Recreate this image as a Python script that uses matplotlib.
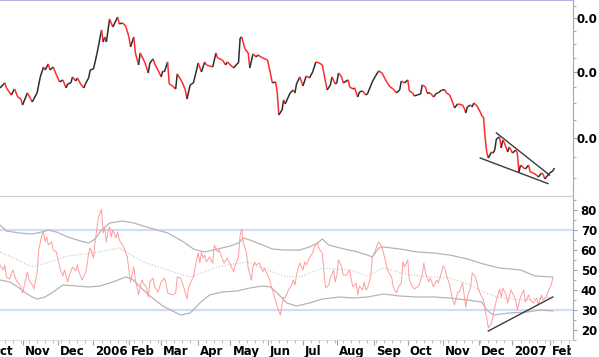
import numpy as np
import pandas as pd
import matplotlib
matplotlib.use("Agg")
import matplotlib.pyplot as plt
from matplotlib.collections import LineCollection
from matplotlib.ticker import FixedLocator, NullFormatter
from matplotlib.transforms import Bbox, TransformedBbox, offset_copy, blended_transform_factory

## data ##
# x values are trading days counted from 12 Oct 2005
start_date = "2005-10-12"

price_day = [0, 3, 4, 7, 9, 11, 13, 14, 17, 19,
             20, 23, 25, 27, 28, 30, 31, 33, 35, 37,
             39, 41, 42, 44, 45, 47, 48, 50, 52, 53,
             55, 56, 58, 60, 61, 63, 64, 65, 66, 68,
             70, 73, 74, 76, 78, 80, 81, 83, 84, 86,
             87, 90, 92, 93, 95, 96, 98, 100, 101, 102,
             104, 105, 107, 109, 110, 113, 115, 116, 118, 120,
             122, 123, 125, 127, 128, 132, 134, 135, 138, 140,
             141, 145, 147, 148, 149, 150, 152, 154, 155, 157,
             159, 160, 163, 166, 168, 169, 171, 172, 173, 175,
             176, 177, 180, 182, 183, 184, 186, 188, 190, 192,
             194, 196, 198, 200, 202, 203, 205, 206, 208, 209,
             210, 212, 213, 216, 217, 219, 220, 222, 223, 225,
             227, 228, 231, 233, 235, 237, 239, 240, 242, 244,
             246, 248, 249, 251, 253, 254, 256, 257, 259, 261,
             262, 264, 265, 267, 269, 270, 271, 272, 274, 276,
             277, 279, 281, 282, 284, 287, 288, 289, 290, 292,
             293, 294, 296, 298, 299, 300, 301, 302, 303, 305,
             306, 307, 308, 310, 311, 312, 313, 315, 316, 318,
             320, 321, 322, 323, 325, 326, 328, 329, 331, 333,
             334, 336, 337, 338, 339, 341, 343, 344]
price = [.04737, .04818, .04737, .04626, .04721, .04595, .04564, .04472, .04658, .04564,
         .04518, .04658, .04917, .05085, .05034, .05137, .05034, .05085, .04950, .04834,
         .04867, .04737, .04802, .04818, .04917, .04850, .04900, .04802, .04737, .04802,
         .04900, .05034, .05051, .05296, .05441, .05762, .05533, .05627, .05533, .05980,
         .05820, .06020, .05880, .05900, .05840, .05627, .05441, .05627, .05332, .05120,
         .05332, .05155, .04983, .05155, .05225, .05137, .05034, .04917, .05017, .05000,
         .05172, .04802, .04769, .04721, .04967, .04834, .04705, .04564, .04785, .04818,
         .05034, .05155, .05000, .05172, .05120, .05085, .05332, .05242, .05207, .05120,
         .05172, .05068, .05137, .05155, .05608, .05627, .05404, .05332, .05068, .05314,
         .05260, .05296, .05242, .05207, .04950, .04818, .04834, .04673, .04324, .04397,
         .04549, .04488, .04658, .04705, .04658, .04802, .04917, .04769, .04933, .04900,
         .05000, .05172, .05155, .05120, .04834, .04705, .04785, .04917, .04802, .04818,
         .04983, .04917, .04818, .04867, .04753, .04721, .04737, .04595, .04673, .04689,
         .04626, .04642, .04834, .04933, .05017, .04983, .04883, .04834, .04753, .04721,
         .04658, .04705, .04850, .04818, .04867, .04689, .04658, .04611, .04626, .04642,
         .04785, .04753, .04658, .04658, .04595, .04626, .04658, .04658, .04705, .04705,
         .04658, .04626, .04503, .04427, .04488, .04472, .04427, .04353, .04442, .04472,
         .04442, .04503, .04457, .04368, .04309, .04295, .04014, .03815, .03738, .03815,
         .03802, .03841, .03987, .04014, .03867, .03973, .03933, .03815, .03880, .03802,
         .03841, .03802, .03565, .03651, .03614, .03602, .03651, .03565, .03553, .03529,
         .03505, .03553, .03541, .03482, .03505, .03553, .03577, .03614]

price_ticks = [0.04, 0.05, 0.06]
price_tick_labels = ["0.0", "0.0", "0.0"]

# falling wedge drawn on the price
wedge_hi_day = [308, 341]
wedge_hi = [0.04069, 0.03529]
wedge_lo_day = [298, 340]
wedge_lo = [0.03738, 0.03429]

rsi_day = [0, 2, 3, 4, 6, 8, 10, 11, 13, 14,
           17, 18, 20, 21, 23, 24, 26, 27, 28, 29,
           30, 32, 33, 35, 36, 38, 39, 40, 42, 43,
           45, 47, 48, 49, 51, 53, 54, 55, 56, 58,
           59, 60, 61, 63, 64, 65, 66, 67, 68, 69,
           70, 72, 73, 74, 76, 77, 79, 80, 81, 83,
           84, 85, 86, 88, 89, 91, 92, 93, 95, 96,
           98, 100, 102, 103, 104, 107, 109, 110, 112, 114,
           116, 117, 119, 120, 122, 123, 124, 125, 126, 127,
           128, 130, 132, 133, 135, 136, 138, 139, 141, 143,
           145, 146, 148, 149, 150, 151, 153, 154, 156, 157,
           158, 159, 161, 163, 164, 166, 167, 169, 170, 171,
           172, 174, 175, 176, 177, 179, 181, 182, 183, 184,
           186, 188, 189, 190, 192, 194, 195, 197, 198, 200,
           201, 202, 204, 205, 207, 208, 209, 210, 212, 213,
           215, 217, 218, 219, 221, 222, 223, 225, 226, 227,
           228, 230, 231, 233, 234, 235, 237, 238, 240, 241,
           243, 244, 246, 247, 249, 250, 251, 253, 254, 256,
           257, 259, 260, 262, 263, 264, 266, 267, 269, 271,
           272, 274, 275, 276, 277, 279, 281, 282, 284, 285,
           287, 289, 290, 292, 293, 295, 296, 297, 299, 300,
           301, 302, 303, 305, 306, 308, 310, 311, 312, 314,
           315, 317, 318, 320, 321, 323, 325, 326, 328, 329,
           331, 333, 334, 336, 337, 339, 340, 342, 343]
rsi = [52.5, 50, 52.5, 46.5, 45.5, 50, 45, 44, 41.5, 38.5,
       49, 45, 42.5, 40.5, 48.5, 60, 67.5, 69, 64, 66.5,
       62.5, 64, 60, 59, 55, 49, 47, 50, 44, 47.5,
       51.5, 49.5, 52.5, 49, 45, 48.5, 52.5, 58.5, 61, 56,
       64, 70, 76, 80.5, 68.5, 71, 64, 69, 71.5, 66.5,
       70, 66, 69, 65, 62.5, 61, 56.5, 50, 44, 51.5,
       45, 41.5, 37.5, 45, 43.5, 41, 36.5, 44, 46, 41.5,
       39, 44, 46, 43.5, 38.5, 37.5, 38.5, 46.5, 46, 41.5,
       35.5, 41, 45, 46.5, 55, 58.5, 53.5, 59, 56, 57.5,
       54, 56.5, 53.5, 62.5, 59, 60, 55.5, 53.5, 56, 52.5,
       49, 52.5, 56.5, 67.5, 70.5, 63.5, 58.5, 51, 45, 51.5,
       54, 52.5, 53.5, 49, 51, 47.5, 46, 40, 37.5, 35,
       31.5, 27.5, 32.5, 36.5, 36, 40, 42.5, 45, 42.5, 47.5,
       53.5, 50, 54, 52.5, 56, 58.5, 61.5, 63.5, 60.5, 58.5,
       49, 41, 42.5, 46, 50, 44, 47.5, 55, 51.5, 47.5,
       47.5, 50, 45, 41.5, 43.5, 37.5, 42, 40, 44, 40,
       41, 46.5, 56, 60, 62.5, 64, 61.5, 58.5, 51.5, 49,
       46.5, 41.5, 38.5, 41, 43.5, 54, 51.5, 55, 45, 41.5,
       40.5, 41.5, 42.5, 47.5, 53.5, 48.5, 44, 46, 41.5, 45,
       43.5, 49, 52, 51, 47.5, 42.5, 35, 32.5, 39, 39,
       43.5, 31.5, 36.5, 41.5, 48.5, 46.5, 43.5, 40, 36.5, 35,
       30, 26, 21, 23.5, 27.5, 35, 40.5, 36.5, 41, 37.5,
       33.5, 40, 38.5, 35, 30, 36.5, 40, 34, 37.5, 35,
       33.5, 36, 32.5, 37.5, 35, 36.5, 39, 42.5, 46]

# bands around the RSI
band_up_day = [0, 4, 12, 20, 26, 30, 35, 42, 50, 55, 59, 63, 68, 76, 83, 91, 104, 114,
               120, 127, 135, 143, 148, 151, 155, 163, 169, 176, 186, 192, 197, 200, 204,
               211, 222, 228, 231, 235, 238, 248, 259, 269, 279, 290, 300, 310, 323, 332, 343]
band_up = [72.5, 69.5, 68.5, 68, 69, 70, 69, 66.5, 64.5, 63.5, 65.5, 70, 73.5, 74.5, 73.5,
           71.5, 68.5, 64, 60.5, 59, 60.5, 62, 63.5, 66, 65, 62.5, 60.5, 60, 60, 61.5, 63.5,
           65.5, 62.5, 61, 59, 57.5, 56.5, 61, 61.5, 60.5, 59, 58.5, 57.5, 55.5, 53, 51, 50,
           47, 46.5]
band_lo_day = [0, 6, 11, 16, 20, 23, 28, 33, 39, 48, 55, 62, 70, 78, 82, 87, 93, 101, 112,
               118, 124, 130, 138, 147, 155, 163, 168, 172, 178, 184, 192, 200, 211, 219, 228,
               238, 248, 259, 269, 279, 290, 299, 302, 306, 316, 327, 335, 343]
band_lo = [45, 44, 41.5, 38.5, 36.5, 35.5, 36.5, 39, 42.5, 42, 41.5, 42, 44, 46.5, 45.5, 41.5,
           37, 32, 27.5, 28.5, 33.5, 37.5, 39, 39.5, 41, 42, 41.5, 38.5, 33.5, 32, 33.5, 35.5,
           36.5, 36, 36.5, 38, 37, 36.5, 36.5, 36, 35, 34, 30, 27.5, 28.5, 29, 30, 29.5]
band_mid_day = [0, 11, 20, 31, 42, 58, 74, 89, 104, 118, 135, 153, 176, 186, 200, 217, 228,
                238, 254, 269, 279, 292, 300, 310, 325, 341]
band_mid = [59, 55, 51.5, 54, 57, 58.5, 61, 54, 50, 46.5, 51.5, 54, 47, 46.5, 51, 50, 47, 51,
            47.5, 46.5, 46, 42.5, 39, 36, 35, 36.5]

# rising line under the RSI lows
rsi_trend_day = [303, 343]
rsi_trend = [19.5, 36.5]

rsi_ticks = [20, 30, 40, 50, 60, 70, 80]
rsi_levels = [70, 30]

## figure ##
W, H = 599, 357
plt.rcParams['font.family'] = 'DejaVu Sans'
plt.rcParams['font.weight'] = 'bold'
fig = plt.figure(figsize=(W / 100, H / 100), dpi=100)
right = 573 / W
ax1 = fig.add_axes([0, 1 - 197 / H, right, 197 / H])
ax2 = fig.add_axes([0, 1 - 340 / H, right, 143 / H])

px_per_day = 1.6116
xmax = 573 / px_per_day

# price, black on up moves and red on down moves
d = np.array(price_day)
p = np.array(price)
pts = np.column_stack([d, p])
segs = np.stack([pts[:-1], pts[1:]], axis=1)
cols = np.where(np.diff(p) < 0, '#ff2a2a', '#2e2e2e')
ax1.add_collection(LineCollection(segs, colors=cols, linewidths=1.1))
ax1.plot(wedge_hi_day, wedge_hi, color='#3a3a3a', lw=1.0)
ax1.plot(wedge_lo_day, wedge_lo, color='#3a3a3a', lw=1.0)

ax1.set_yscale('log')
ax1.set_xlim(0, xmax)
ax1.set_ylim(0.03277, 0.06376)
ax1.yaxis.set_major_locator(FixedLocator(price_ticks))
ax1.yaxis.set_minor_locator(FixedLocator(np.arange(0.0325, 0.064, 0.0025)))
ax1.yaxis.set_minor_formatter(NullFormatter())
ax1.set_yticks(price_ticks, labels=price_tick_labels)

# RSI panel
for lvl in rsi_levels:
    ax2.axhline(lvl, color='#cfdcfa', lw=1.6, zorder=1)
ax2.plot(band_up_day, band_up, color='#b5b5b5', lw=0.9)
ax2.plot(band_lo_day, band_lo, color='#b5b5b5', lw=0.9)
ax2.plot(band_mid_day, band_mid, color='#c4c4c4', lw=0.8, ls=':')
ax2.plot(rsi_day, rsi, color='#ff9c9c', lw=0.7)
ax2.plot(rsi_trend_day, rsi_trend, color='#3a3a3a', lw=1.0)
ax2.set_xlim(0, xmax)
ax2.set_ylim(15, 86.5)
ax2.set_yticks(rsi_ticks)
ax2.yaxis.set_minor_locator(FixedLocator(np.arange(15, 86, 5)))

for ax in (ax1, ax2):
    ax.set_facecolor('white')
    ax.yaxis.tick_right()
    ax.spines['left'].set_visible(False)
    ax.spines['right'].set_color('#a8a8a8')
    ax.tick_params(axis='y', which='major', length=4 * 0.72, width=0.8, color='#a0a0a0',
                   pad=20 * 0.72, labelsize=8.5)
    ax.tick_params(axis='y', which='minor', length=3 * 0.72, width=0.8, color='#b0b0b0')
    for t in ax.yaxis.get_major_ticks():
        t.label2.set_horizontalalignment('right')
        t.label2.set_fontweight('bold')

ax1.spines['top'].set_color('#b3b3e6')
ax1.spines['top'].set_linewidth(1.5)
ax1.spines['bottom'].set_color('#cccccc')
ax1.spines['bottom'].set_linewidth(1.5)
ax1.set_xticks([])
ax2.spines['top'].set_visible(False)
ax2.spines['bottom'].set_color('#d8d8d8')
ax2.spines['bottom'].set_linewidth(0.6)

# month ticks and labels from the trading calendar
all_days = pd.bdate_range("2005-10-01", "2007-03-31")
offset = int(np.where(all_days == pd.Timestamp(start_date))[0][0])
pos = np.arange(len(all_days)) - offset
month_start = np.r_[True, all_days.month[1:] != all_days.month[:-1]]
keep = month_start & (pos < xmax)
mpos = pos[keep]
mlab = [str(dt.year) if dt.month == 1 else dt.strftime('%b') for dt in all_days[keep]]
weekly = pos[(all_days.dayofweek == 0) & (pos >= 0) & (pos < xmax)]

ax2.set_xticks([m for m in mpos if m >= 0])
ax2.set_xticks(weekly, minor=True)
ax2.tick_params(axis='x', which='major', length=5 * 0.72, color='#a0a0a0', labelbottom=False)
ax2.tick_params(axis='x', which='minor', length=3 * 0.72, color='#b0b0b0')

# labels sit right of their tick; the last one is cut at the price scale
clip = TransformedBbox(Bbox([[0, 0], [571 / W, 1]]), fig.transFigure)
trans = offset_copy(blended_transform_factory(ax2.transData, ax2.transAxes),
                    fig=fig, x=2, y=-15, units='dots')
for m, lab in zip(mpos, mlab):
    t = ax2.text(m, 0, lab, transform=trans, ha='left', va='baseline',
                 fontsize=8.5, fontweight='bold')
    t.set_clip_box(clip)
    t.set_clip_on(True)

fig.savefig('out.png', dpi=100)
